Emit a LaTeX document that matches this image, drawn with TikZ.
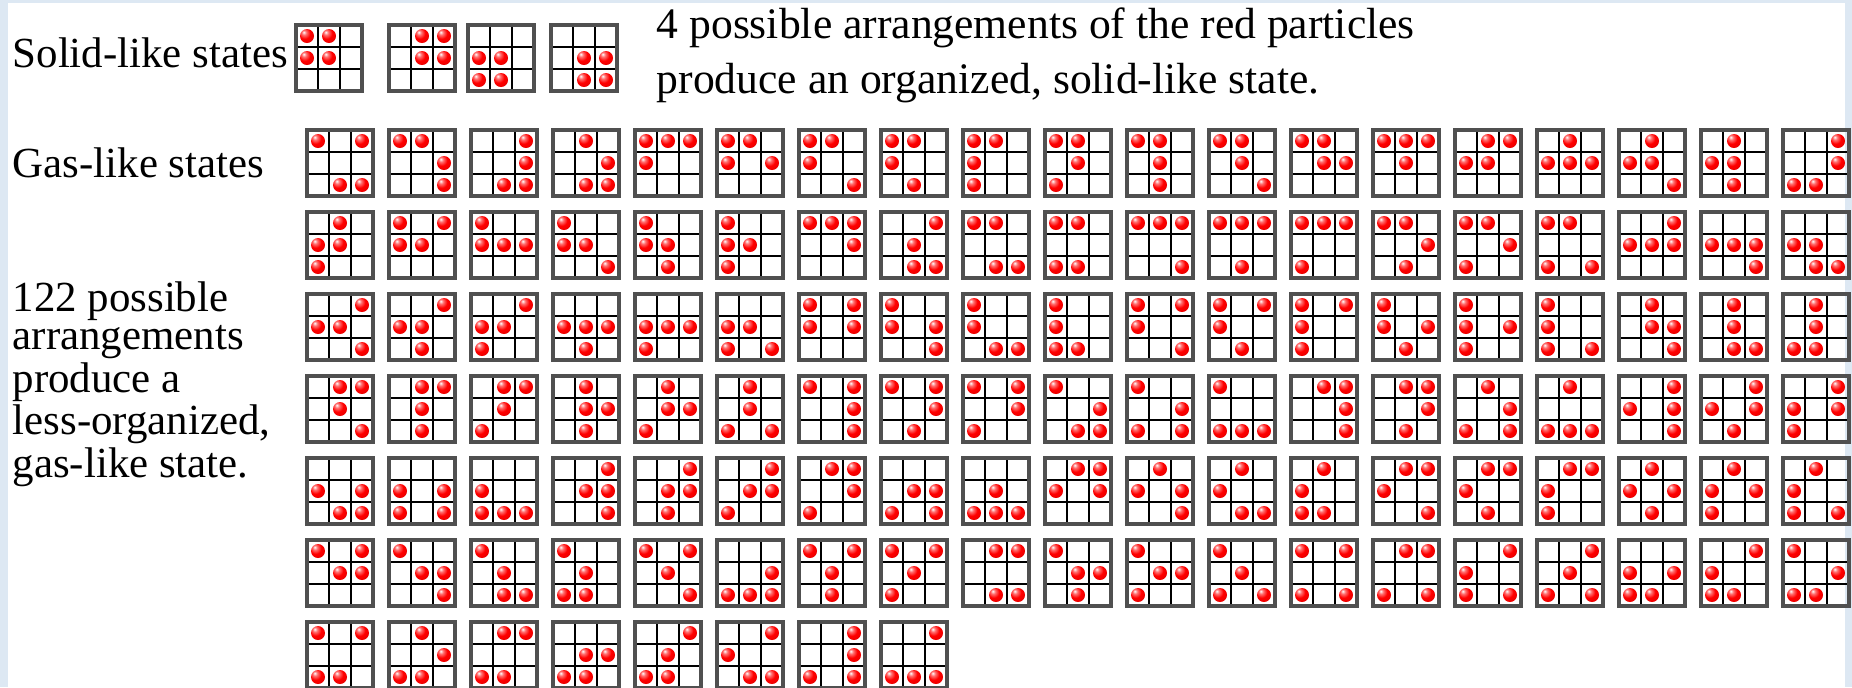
\documentclass[tikz,border=0pt]{standalone}
\usepackage{fontspec}
\setmainfont{Liberation Serif}
\usetikzlibrary{positioning}

\definecolor{panelblue}{RGB}{221,232,243}
\definecolor{framegray}{RGB}{80,80,80}
\pgfdeclareradialshading{redball}{\pgfpoint{-12bp}{14bp}}{%
  color(0bp)=(white); color(8bp)=(red!55!white); color(20bp)=(red);
  color(45bp)=(red!85!black); color(70bp)=(red!60!black)}

% particles of one box: nine digits, row by row from the top
\newcommand\ballcells[9]{%
  \foreach \d [count=\i from 0] in {#1,#2,#3,#4,#5,#6,#7,#8,#9}{%
    \ifnum\d=1
      \pgfmathtruncatemacro\cc{mod(\i,3)}%
      \pgfmathtruncatemacro\rr{div(\i,3)}%
      \shade[particle] (11+22*\cc,11+22*\rr) circle[radius=7];
    \fi}}

% one 3x3 box at top left corner (#1,#2)
\newcommand\cellbox[3]{%
  \begin{scope}[shift={(#1,#2)}]
    \draw[gridline] (22,0) -- (22,66) (44,0) -- (44,66) (0,22) -- (66,22) (0,44) -- (66,44);
    \draw[gridframe] (0,0) rectangle (66,66);
    \expandafter\ballcells#3
  \end{scope}}

\begin{document}
\begin{tikzpicture}[
  x=0.01cm, y=-0.01cm,
  lbl/.style={font=\fontsize{12.2}{10.8}\selectfont, inner sep=0pt, anchor=base west},
  gridline/.style={line width=0.5pt, draw=black},
  gridframe/.style={line width=1pt, draw=framegray},
  particle/.style={shading=redball}
]
\useasboundingbox (0,0) rectangle (1852,687);
\fill[panelblue] (0,0) rectangle (1852,687);
\fill[white] (8,3) rectangle (1845,687);

% labels (base of a multi-line node is its last line)
\node[lbl] (solid) at (12,67) {Solid-like states};
\node[lbl, font=\fontsize{12.4}{15.4}\selectfont, align=left] (info) at (656,93)
  {4 possible arrangements of the red particles\\produce an organized, solid-like state.};
\node[lbl] (gas) at (12,177) {Gas-like states};
\node[lbl, align=left] (count) at (12,477)
  {122 possible\\arrangements\\produce a\\less-organized,\\gas-like state.};

% solid-like boxes
\cellbox{296}{25}{110110000}
\cellbox{389}{25}{011011000}
\cellbox{468}{25}{000110110}
\cellbox{551}{25}{000011011}

% gas-like boxes, one row at a time
\foreach \p [count=\k from 0] in {101000011,110001001,001001011,010001011,111100000,110101000,110100001,110100010,110100100,110010100,110010010,110010001,110011000,111010000,011110000,010111000,010110001,010110010,001001110}
  {\cellbox{307+82*\k}{130}{\p}}
\foreach \p [count=\k from 0] in {010110100,101110000,100111000,100110001,100110010,100110100,111001000,001010011,110000011,110000110,111000001,111000010,111000100,110001010,110001100,110000101,001111000,000111001,000110011}
  {\cellbox{307+82*\k}{212}{\p}}
\foreach \p [count=\k from 0] in {001110001,001110010,001110100,000111010,000111100,000110101,101101000,100101001,100100011,100100110,101100001,101100010,101100100,100101010,100101100,100100101,010011001,010010011,010010110}
  {\cellbox{307+82*\k}{294}{\p}}
\foreach \p [count=\k from 0] in {011010001,011010010,011010100,010011010,010011100,010010101,101001001,101001010,101001100,100001011,100001101,100000111,011001001,011001010,010001101,010000111,001101001,001101010,001101100}
  {\cellbox{307+82*\k}{376}{\p}}
\foreach \p [count=\k from 0] in {000101011,000101101,000100111,001011001,001011010,001011100,011001100,000011101,000010111,011101000,010101001,010100011,010100110,011100001,011100010,011100100,010101010,010101100,010100101}
  {\cellbox{307+82*\k}{458}{\p}}
\foreach \p [count=\k from 0] in {101011000,100011001,100010011,100010110,101010001,000001111,101010010,101010100,011000011,100011010,100011100,100010101,101000101,011000101,001100101,001010101,000101110,001100110,100001110}
  {\cellbox{307+82*\k}{540}{\p}}
\foreach \p [count=\k from 0] in {101000110,010001110,011000110,000011110,001010110,001100011,001001101,001000111}
  {\cellbox{307+82*\k}{622}{\p}}
\end{tikzpicture}
\end{document}
